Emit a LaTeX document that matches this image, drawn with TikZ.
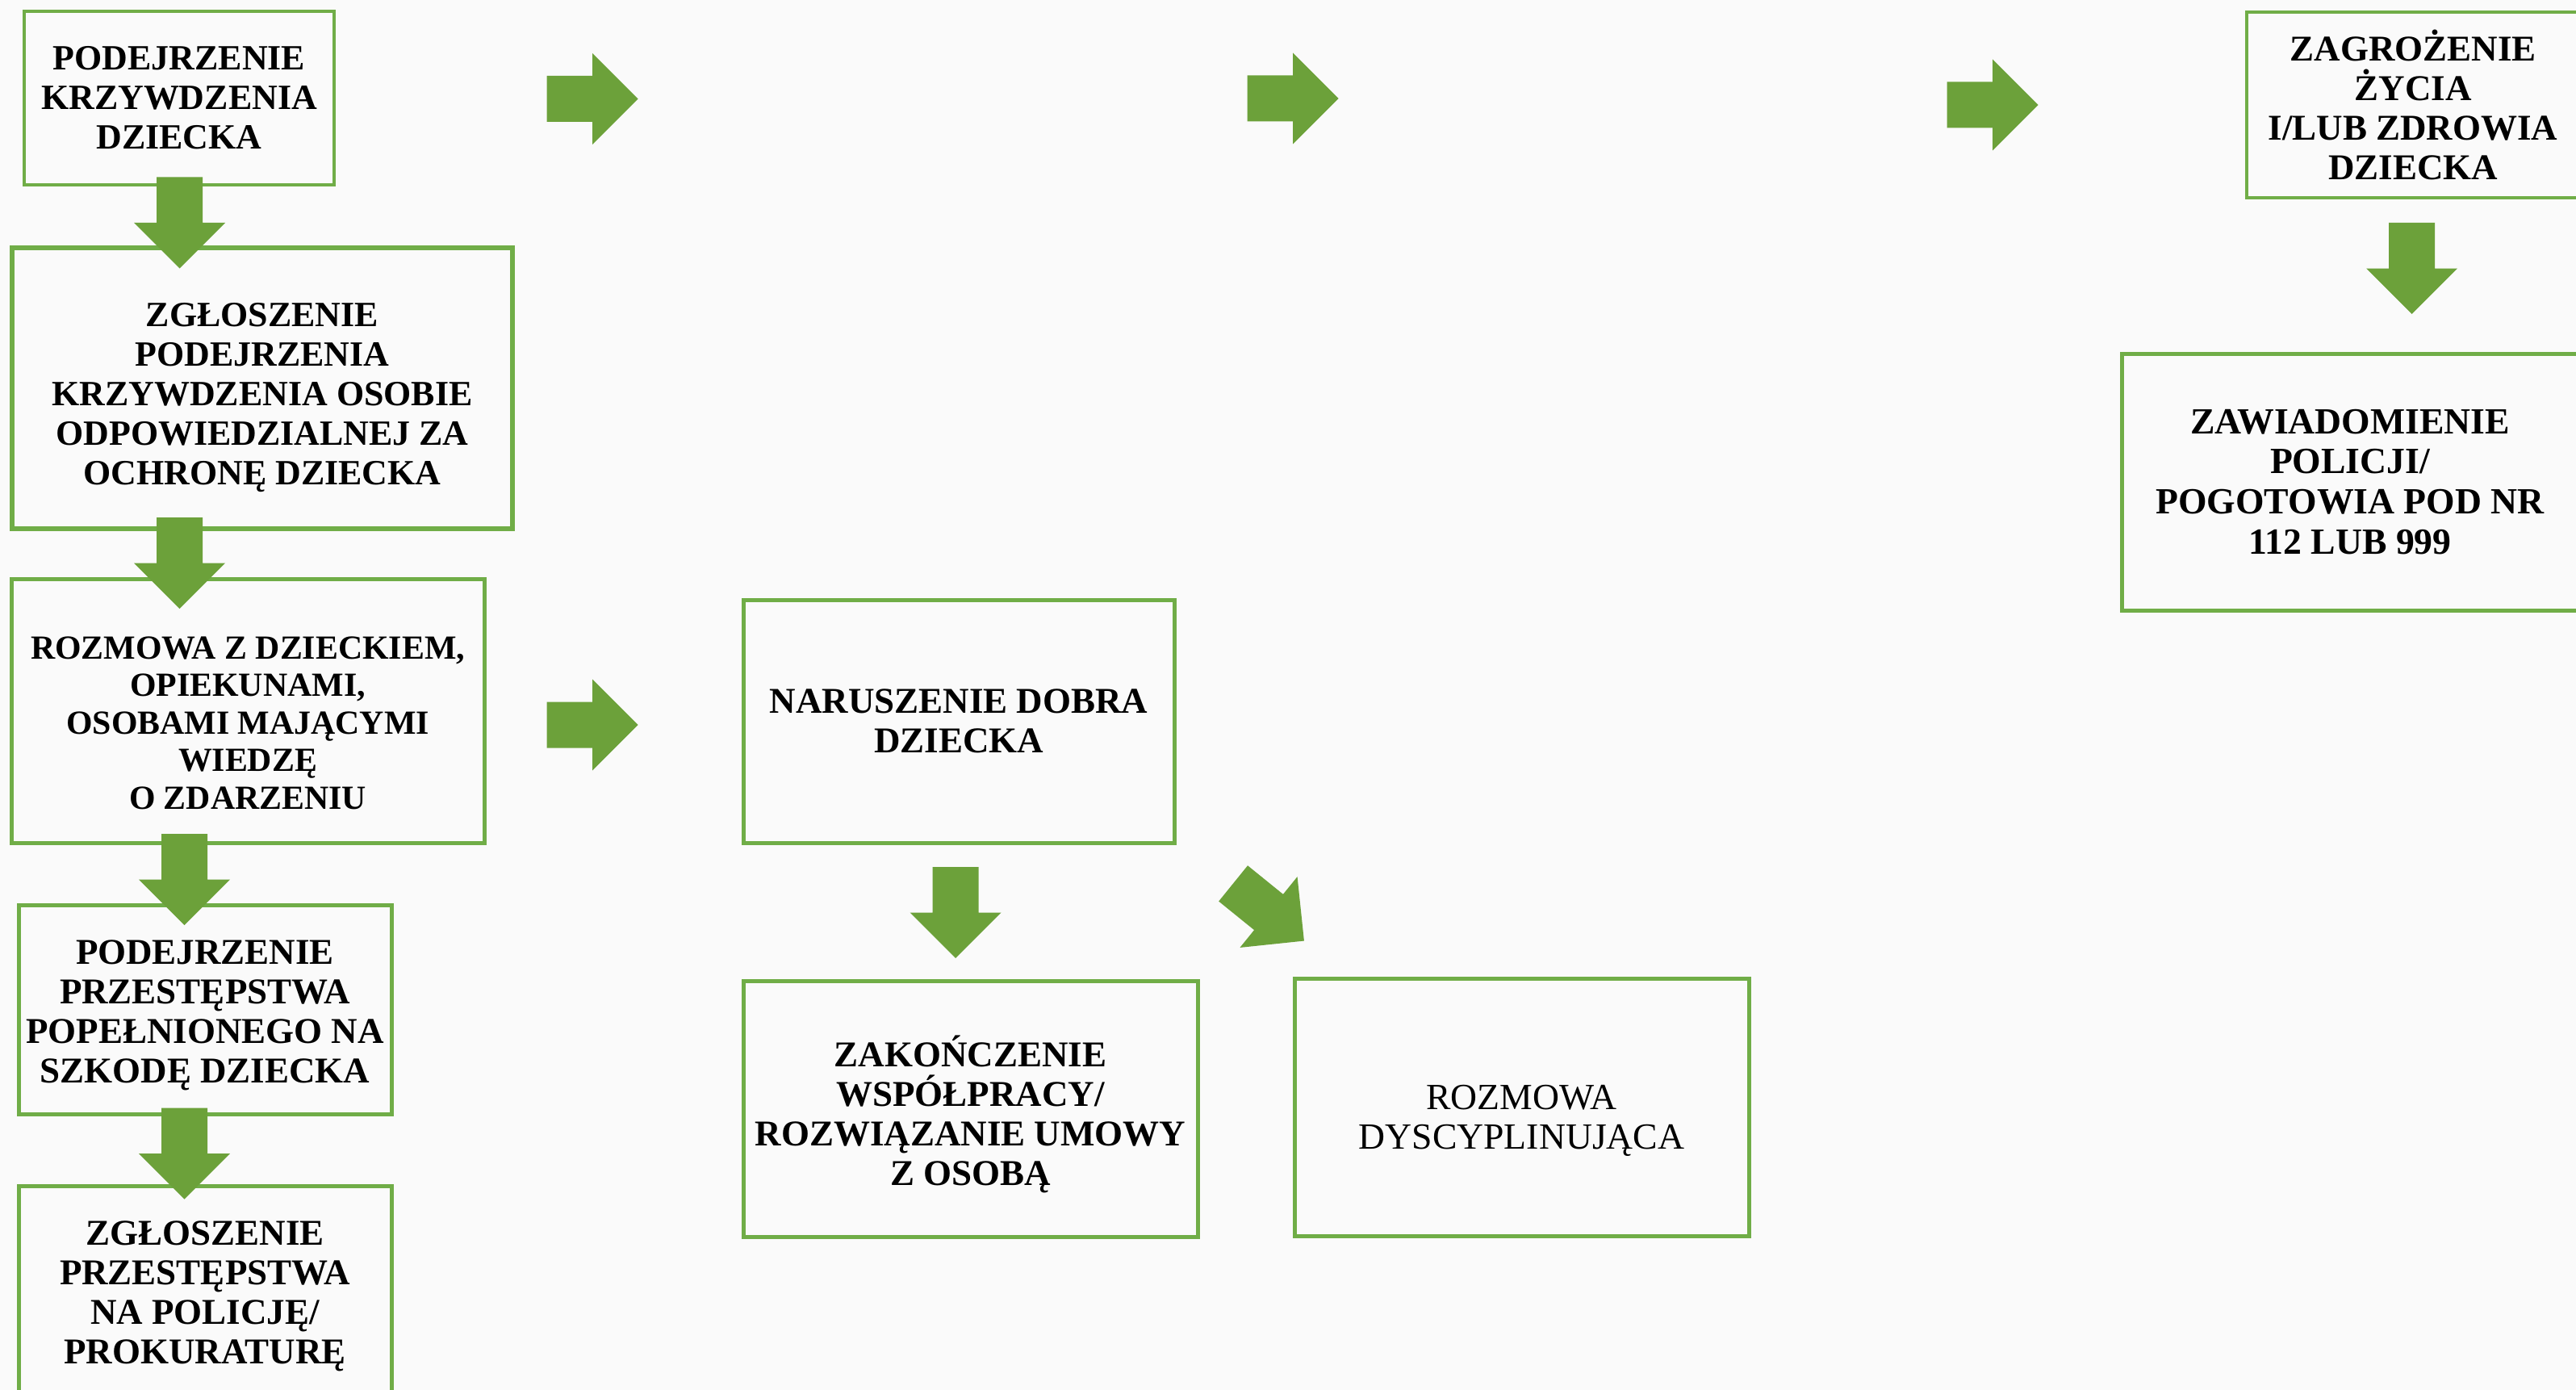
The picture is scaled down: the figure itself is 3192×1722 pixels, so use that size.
\documentclass[tikz,border=0pt]{standalone}
\usepackage{fontspec}
\setmainfont{Liberation Serif}
\usetikzlibrary{calc}

\definecolor{boxgreen}{RGB}{112,173,71}
\definecolor{arrowgreen}{RGB}{108,161,58}
\definecolor{paper}{RGB}{250,250,250}

% invisible strut that pushes the first line of a box down a little
\newcommand{\textdrop}[1]{\rule{0pt}{#1}}

\tikzset{
  stagebox/.style={draw=boxgreen, line width=0.5mm, align=center, inner sep=0pt,
    font=\fontsize{12.8}{13.9}\selectfont\bfseries},
  blockarrow/.pic={
    \fill[arrowgreen] (-56.5,-28.5) -- (0,-28.5) -- (0,-56.5) -- (56.5,0)
      -- (0,56.5) -- (0,28.5) -- (-56.5,28.5) -- cycle;
  }
}

\begin{document}
\begin{tikzpicture}[x=0.1mm, y=-0.1mm]
    % --- Canvas ---
    \useasboundingbox (0,0) rectangle (3192,1722);
    \fill[paper] (0,0) rectangle (3192,1722);
    \clip (0,0) rectangle (3192,1722);

    % --- Left column ---
    \node[stagebox, line width=0.35mm, font=\fontsize{12.5}{13.9}\selectfont\bfseries,
          minimum width=38.4mm, minimum height=21.5mm] (suspicion) at (222,121.5)
          {PODEJRZENIE\\KRZYWDZENIA\\DZIECKA};
    \node[stagebox, line width=0.65mm, font=\fontsize{12.5}{13.9}\selectfont\bfseries,
          minimum width=62mm, minimum height=34.8mm] (report) at (325,481)
          {\textdrop{5.2mm}ZGŁOSZENIE\\PODEJRZENIA\\KRZYWDZENIA OSOBIE\\ODPOWIEDZIALNEJ ZA\\OCHRONĘ DZIECKA};
    \node[stagebox, font=\fontsize{11.9}{13.2}\selectfont\bfseries,
          minimum width=58.6mm, minimum height=32.7mm] (interview) at (307,880.5)
          {\textdrop{5.8mm}ROZMOWA Z DZIECKIEM,\\OPIEKUNAMI,\\OSOBAMI MAJĄCYMI\\WIEDZĘ\\O ZDARZENIU};
    \node[stagebox, minimum width=46.2mm, minimum height=25.9mm] (crime) at (254,1250.5)
          {\textdrop{4.4mm}PODEJRZENIE\\PRZESTĘPSTWA\\POPEŁNIONEGO NA\\SZKODĘ DZIECKA};
    \node[stagebox, minimum width=46.2mm, minimum height=25.9mm] (crimereport) at (254,1598.5)
          {\textdrop{4.4mm}ZGŁOSZENIE\\PRZESTĘPSTWA\\NA POLICJĘ/\\PROKURATURĘ};

    % --- Middle ---
    \node[stagebox, minimum width=53.4mm, minimum height=30.1mm] (breach) at (1188,893.5)
          {NARUSZENIE DOBRA\\DZIECKA};
    \node[stagebox, minimum width=56.3mm, minimum height=31.7mm] (termination) at (1202.5,1373.5)
          {\textdrop{5.2mm}ZAKOŃCZENIE\\WSPÓŁPRACY/\\ROZWIĄZANIE UMOWY\\Z OSOBĄ};
    \node[stagebox, font=\fontsize{13}{13.9}\selectfont,
          minimum width=56.3mm, minimum height=31.9mm] (discipline) at (1885.5,1371.5)
          {\textdrop{6.4mm}ROZMOWA\\DYSCYPLINUJĄCA};

    % --- Right column ---
    \node[stagebox, line width=0.35mm, minimum width=41.2mm, minimum height=23mm] (danger) at (2990,130)
          {ZAGROŻENIE\\ŻYCIA\\I/LUB ZDROWIA\\DZIECKA};
    \node[stagebox, font=\fontsize{13}{14.2}\selectfont\bfseries,
          minimum width=56.6mm, minimum height=31.8mm] (emergency) at (2912,597)
          {ZAWIADOMIENIE\\POLICJI/\\POGOTOWIA POD NR\\112 LUB 999};

    % --- Block arrows ---
    % 1. Pointing right
    \pic (a1) at (734,122.5) {blockarrow};
    \pic (a2) at (1602,122) {blockarrow};
    \pic (a3) at (2469,130) {blockarrow};
    \pic (a4) at (734,898) {blockarrow};

    % 2. Pointing down
    \pic (d1) [rotate=-90] at (222.5,276) {blockarrow};
    \pic (d2) [rotate=-90] at (222.5,697.5) {blockarrow};
    \pic (d3) [rotate=-90] at (228.5,1089.5) {blockarrow};
    \pic (d4) [rotate=-90] at (228.5,1429) {blockarrow};
    \pic (d5) [rotate=-90] at (1184,1130.5) {blockarrow};
    \pic (d6) [rotate=-90] at (2988.5,332.5) {blockarrow};

    % 3. Pointing down-right, towards the disciplinary talk
    \pic (dg) [rotate=-39] at (1572,1130) {blockarrow};

\end{tikzpicture}
\end{document}
